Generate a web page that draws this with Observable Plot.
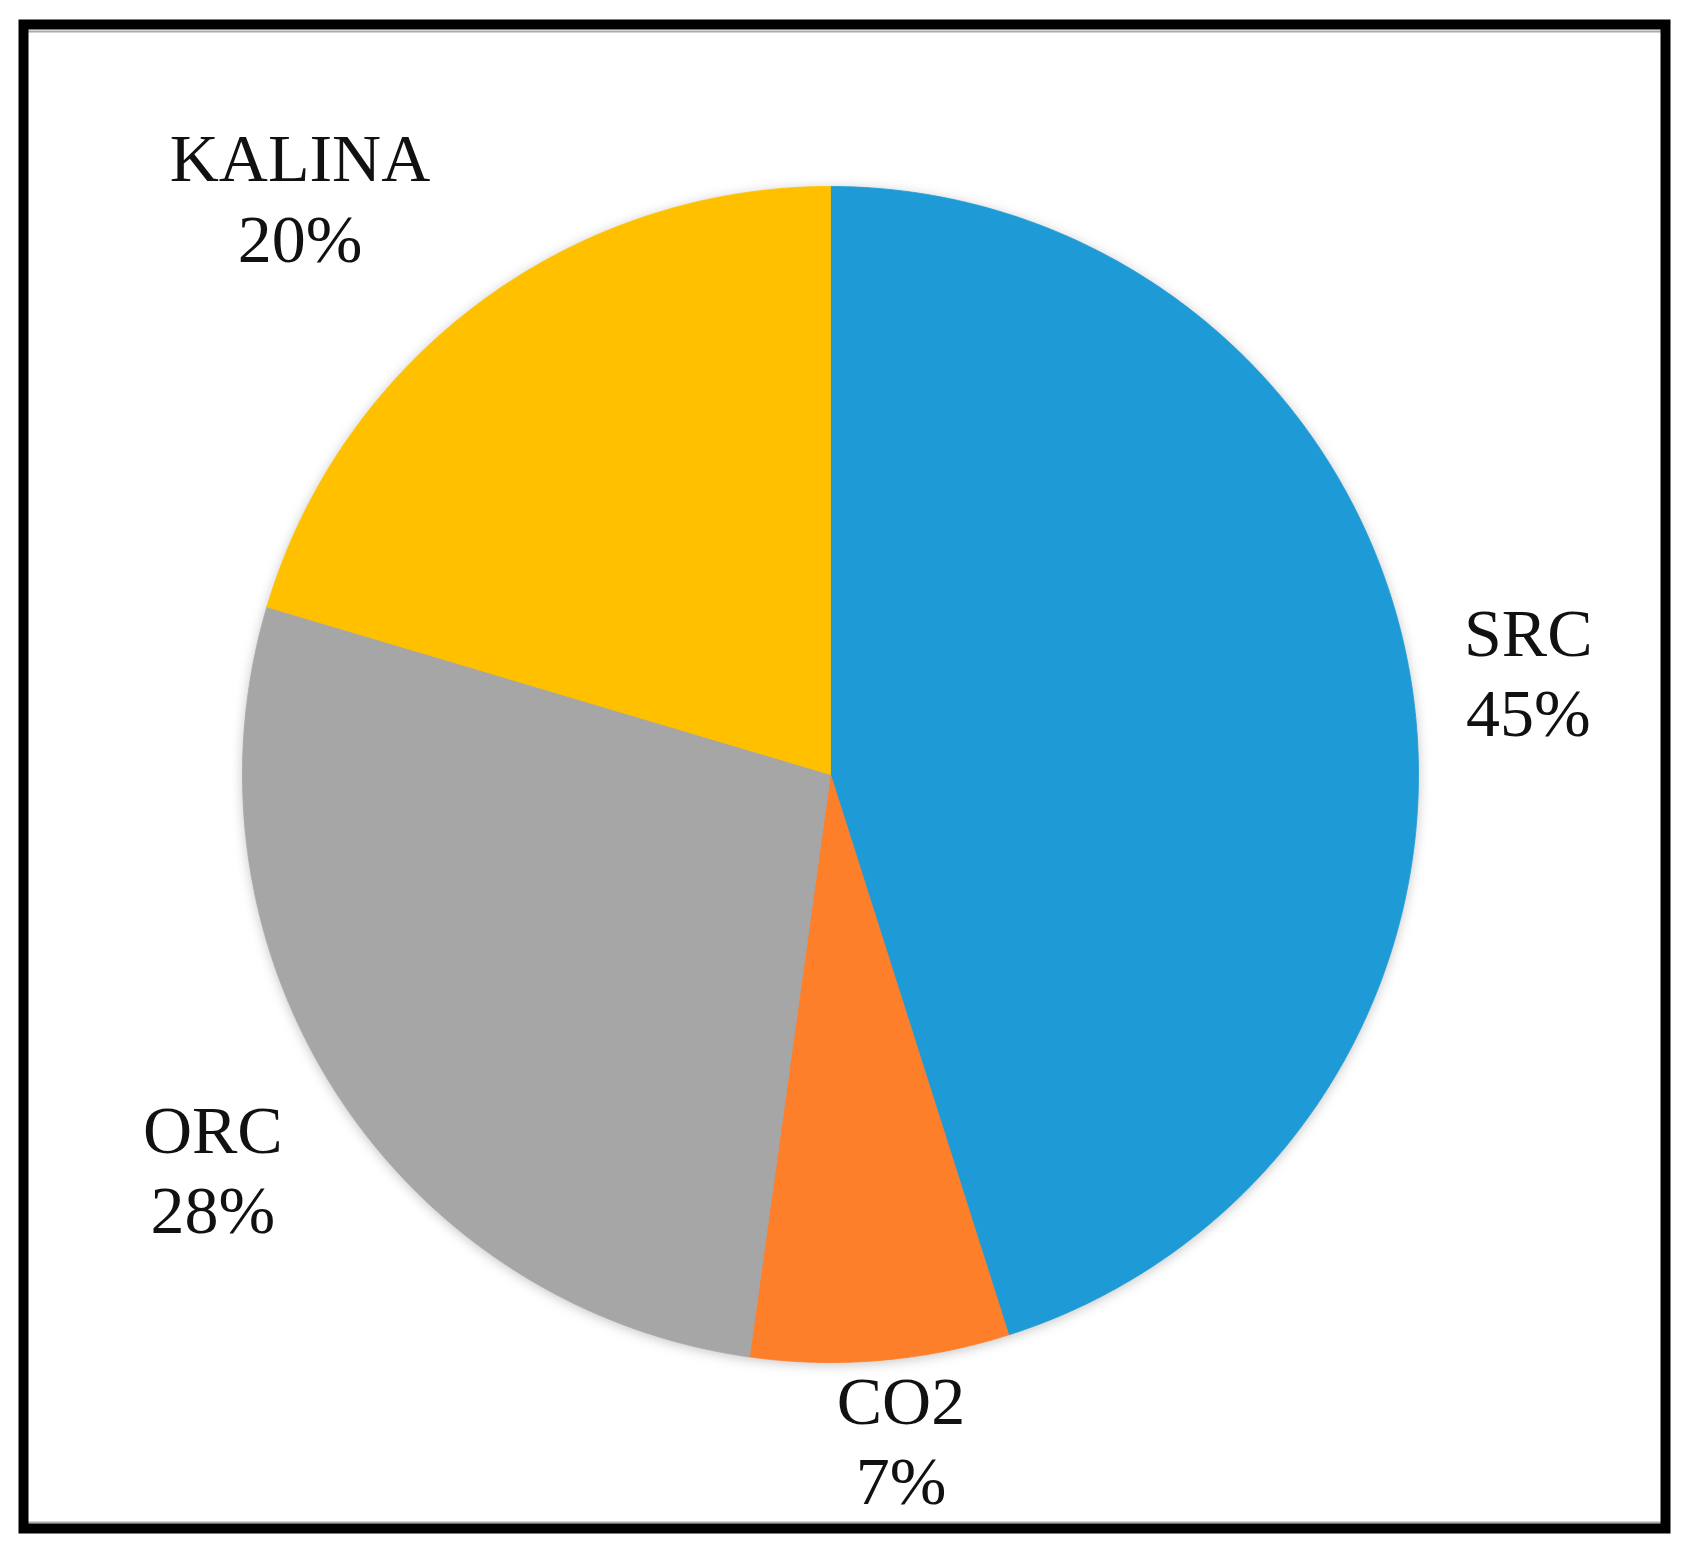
<!DOCTYPE html>
<html>
<head>
<meta charset="utf-8">
<script src="https://cdn.jsdelivr.net/npm/d3@7"></script>
<script src="https://cdn.jsdelivr.net/npm/@observablehq/plot@0.6"></script>
<style>
  html, body { margin: 0; padding: 0; background: #fff; }
  svg { display: block; }
  g.slices { filter: drop-shadow(0px 2px 6px rgba(0,0,0,0.22)); }
</style>
</head>
<body>
<div id="chart"></div>
<script>
// ---- data ----
const categories = ["SRC", "CO2", "ORC", "KALINA"];
// slice sizes as drawn in the picture (labels show the rounded percentages)
const shares = [45.1, 7.1, 27.4, 20.4];
const shareLabels = ["45%", "7%", "28%", "20%"];
const colors = ["#1E9AD6", "#FE7F2A", "#A6A6A6", "#FFC000"];

// ---- layout ----
const W = 1684, H = 1553;
const cx = 830, cy = 774, R = 588;
// label placement tweaks (radius factor, angle offset in degrees)
const labelTweak = {
  SRC: [1.20, 0.3],
  CO2: [1.135, -1.2],
  ORC: [1.245, 0.3],
  KALINA: [1.335, -5.8]
};

const arcs = d3.pie().sort(null).value(d => d)(shares);
const pts = [];
const labels = [];
arcs.forEach((a, i) => {
  const name = categories[i];
  pts.push({name, x: 0, y: 0});
  const n = Math.ceil((a.endAngle - a.startAngle) / (Math.PI / 360));
  for (let k = 0; k <= n; k++) {
    const t = a.startAngle + (a.endAngle - a.startAngle) * k / n;
    pts.push({name, x: Math.sin(t), y: Math.cos(t)});
  }
  pts.push({name, x: 0, y: 0});
  const [rf, da] = labelTweak[name];
  const mid = (a.startAngle + a.endAngle) / 2 + da * Math.PI / 180;
  labels.push({name, text: name + "\n" + shareLabels[i], x: rf * Math.sin(mid), y: rf * Math.cos(mid)});
});

const chart = Plot.plot({
  width: W,
  height: H,
  margin: 0,
  style: {background: "#fff"},
  x: {domain: [-cx / R, (W - cx) / R], axis: null},
  y: {domain: [-(H - cy) / R, cy / R], axis: null},
  color: {domain: categories, range: colors},
  marks: [
    Plot.line(pts, {
      x: "x", y: "y", z: "name",
      fill: "name", stroke: "name", strokeWidth: 0.8,
      curve: "linear",
      render(index, scales, values, dimensions, context, next) {
        const g = next(index, scales, values, dimensions, context);
        g.classList.add("slices");
        return g;
      }
    }),
    Plot.text(labels, {
      x: "x", y: "y", text: "text",
      fontFamily: "Liberation Serif, Times New Roman, serif",
      fontSize: 68,
      lineHeight: 1.18,
      fill: "#111",
      textAnchor: "middle",
      lineAnchor: "middle"
    }),
    Plot.frame({anchor: "top", stroke: "#aaa", strokeWidth: 2, insetLeft: 28, insetTop: 31, insetRight: 20}),
    Plot.frame({anchor: "bottom", stroke: "#aaa", strokeWidth: 2, insetLeft: 28, insetBottom: 31, insetRight: 20}),
    Plot.frame({stroke: "#000", strokeWidth: 10, insetLeft: 23, insetTop: 24, insetRight: 19, insetBottom: 25})
  ]
});
document.getElementById("chart").appendChild(chart);
</script>
</body>
</html>
